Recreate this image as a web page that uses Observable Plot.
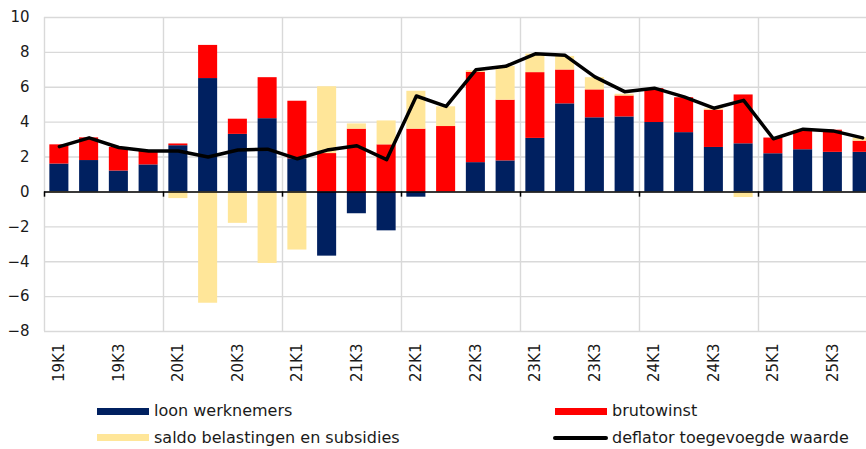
<!DOCTYPE html>
<html>
<head>
<meta charset="utf-8">
<script src="https://cdn.jsdelivr.net/npm/d3@7"></script>
<script src="https://cdn.jsdelivr.net/npm/@observablehq/plot@0.6"></script>
<style>
  html, body { margin: 0; padding: 0; background: #fff; overflow: hidden; }
  #wrap { position: relative; width: 866px; height: 449px; font-family: "DejaVu Sans", Verdana, sans-serif; }
  .sw { position: absolute; }
  .lt { position: absolute; font-size: 16px; color: #1a1a1a; line-height: 16px; white-space: nowrap; }
</style>
</head>
<body>
<div id="wrap"></div>
<script>
const quarters = ["19K1","19K2","19K3","19K4","20K1","20K2","20K3","20K4","21K1","21K2","21K3","21K4","22K1","22K2","22K3","22K4","23K1","23K2","23K3","23K4","24K1","24K2","24K3","24K4","25K1","25K2","25K3","25K4"];
const loonWerknemers = [1.6,1.8,1.2,1.55,2.65,6.5,3.3,4.2,1.9,-3.68,-1.25,-2.23,-0.3,0,1.68,1.78,3.07,5.05,4.25,4.3,3.98,3.4,2.55,2.76,2.19,2.42,2.27,2.27];
const brutowinst = [1.1,1.3,1.35,0.8,0.1,1.9,0.87,2.35,3.3,2.2,3.6,2.7,3.6,3.75,5.18,3.48,3.77,1.94,1.6,1.2,1.94,2.0,2.14,2.8,0.9,1.07,1.27,0.64];
const saldoBelastingen = [-0.05,0,0,0,-0.38,-6.38,-1.8,-4.1,-3.33,3.83,0.3,1.37,2.17,1.13,0.09,1.94,1.06,0.78,0.7,0.1,0,0,0.07,-0.32,0,0.05,-0.05,0.18];
const deflator = [2.6,3.1,2.55,2.35,2.35,2.0,2.4,2.45,1.9,2.4,2.65,1.85,5.5,4.9,7.0,7.2,7.92,7.83,6.6,5.75,5.95,5.45,4.8,5.25,3.05,3.6,3.5,3.1];
const seriesNames = ["loon werknemers","brutowinst","saldo belastingen en subsidies"];
const seriesColors = ["#002060","#FF0000","#FFE699"];
const lineName = "deflator toegevoegde waarde";
const yTicks = [-8,-6,-4,-2,0,2,4,6,8,10];

const rows = [];
quarters.forEach((q, i) => {
  rows.push({q, s: seriesNames[0], v: loonWerknemers[i]});
  rows.push({q, s: seriesNames[1], v: brutowinst[i]});
  rows.push({q, s: seriesNames[2], v: saldoBelastingen[i]});
});
const lineData = quarters.map((q, i) => ({q, v: deflator[i]}));
const yearStarts = quarters.filter((q, i) => i % 4 === 0);
const labelTicks = quarters.filter((q, i) => i % 2 === 0);

const x0 = 44, x1 = 877;
const step = (x1 - x0) / quarters.length;

const chart = Plot.plot({
  width: 866,
  height: 395,
  marginLeft: 44,
  marginRight: 0,
  marginTop: 17,
  marginBottom: 64,
  style: {fontFamily: "DejaVu Sans, Verdana, sans-serif", fontSize: "15px", color: "#1a1a1a", overflow: "hidden"},
  x: {domain: quarters, range: [x0, x1], paddingInner: 0.36, paddingOuter: 0.18, align: 0.5, round: false},
  y: {domain: [-8, 10], range: [331, 17]},
  color: {domain: seriesNames, range: seriesColors},
  marks: [
    Plot.ruleY(yTicks, {stroke: "#d9d9d9", strokeWidth: 1.4}),
    Plot.ruleX(yearStarts, {x: d => d, y1: -8, y2: 10, dx: -step / 2, stroke: "#d9d9d9", strokeWidth: 1.4}),
    Plot.barY(rows, Plot.stackY({x: "q", y: "v", fill: "s", z: "s", order: seriesNames})),
    Plot.ruleY([0], {stroke: "#000", strokeWidth: 1.5}),
    Plot.ruleX(yearStarts, {x: d => d, y1: 0, y2: -0.3, dx: -step / 2, stroke: "#000", strokeWidth: 1.5}),
    Plot.lineY(lineData, {x: "q", y: "v", stroke: "#000", strokeWidth: 3.5, strokeLinejoin: "round"}),
    Plot.axisY(yTicks, {tickSize: 0, tickPadding: 15, fontSize: 15, fill: "#1a1a1a", label: null}),
    Plot.axisX(labelTicks, {tickSize: 0, tickPadding: 12, tickRotate: -90, fontSize: 15, fill: "#1a1a1a", label: null})
  ]
});
const wrap = document.getElementById("wrap");
wrap.appendChild(chart);

const legend = [
  {name: seriesNames[0], color: seriesColors[0], type: "box", sx: 97, sy: 408, tx: 154, ty: 403},
  {name: seriesNames[1], color: seriesColors[1], type: "box", sx: 555, sy: 408, tx: 612, ty: 403},
  {name: seriesNames[2], color: seriesColors[2], type: "box", sx: 97, sy: 434, tx: 154, ty: 430},
  {name: lineName, color: "#000", type: "line", sx: 553, sy: 436, tx: 612, ty: 430}
];
legend.forEach(l => {
  const s = document.createElement("div");
  s.className = "sw";
  s.style.left = l.sx + "px";
  s.style.top = l.sy + "px";
  s.style.width = (l.type === "line" ? 55 : 52) + "px";
  s.style.height = (l.type === "line" ? 4 : 7) + "px";
  s.style.background = l.color;
  if (l.type === "line") s.style.borderRadius = "2px";
  wrap.appendChild(s);
  const t = document.createElement("div");
  t.className = "lt";
  t.style.left = l.tx + "px";
  t.style.top = l.ty + "px";
  t.textContent = l.name;
  wrap.appendChild(t);
});
</script>
</body>
</html>
